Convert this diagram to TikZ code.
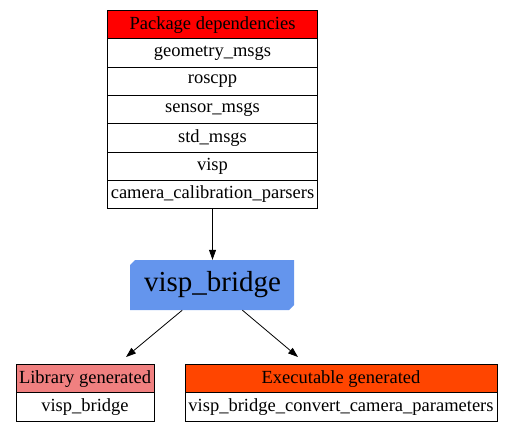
\documentclass[tikz,border=0pt]{standalone}
\usepackage{fontspec}
\setmainfont{Liberation Serif}
\usetikzlibrary{arrows.meta}
\definecolor{hdrred}{HTML}{FF0000}
\definecolor{libcol}{HTML}{F08080}
\definecolor{execol}{HTML}{FF4500}
\definecolor{vbcol}{HTML}{6495ED}
\begin{document}
\begin{tikzpicture}[x=1pt,y=-1pt,
  cell/.style={draw, line width=0.9pt, inner sep=0pt, anchor=north, minimum height=28.3pt,
    font=\fontsize{18.5}{20}\selectfont},
  conn/.style={line width=0.8pt, -{Triangle[length=10pt,width=7pt]}}]
\useasboundingbox (0,0) rectangle (511,432);
% package dependencies table
\node[cell, minimum width=210pt, fill=hdrred] (p0) at (212.5,10) {Package dependencies};
\foreach \t [count=\i from 1] in {geometry\_msgs,roscpp,sensor\_msgs,std\_msgs,visp,camera\_calibration\_parsers}{
  \node[cell, minimum width=210pt] (p\i) at (212.5,{10+\i*28.3}) {\t};
}
% visp_bridge node
\node[minimum width=164pt, minimum height=50pt, inner sep=0pt] (vb) at (212.5,285) {};
\fill[vbcol] (135,260) -- (294,260) -- (294,305) -- (289,310) -- (130,310) -- (130,265) -- cycle;
\node[font=\fontsize{29}{32}\selectfont] at (vb) {visp\_bridge};
% library table
\node[cell, minimum width=138pt, fill=libcol] (l0) at (85,364) {Library generated};
\node[cell, minimum width=138pt] (l1) at (85,392.3) {visp\_bridge};
% executable table
\node[cell, minimum width=312pt, fill=execol] (e0) at (341,364) {Executable generated};
\node[cell, minimum width=312pt] (e1) at (341,392.3) {visp\_bridge\_convert\_camera\_parameters};
% connector ends
\coordinate (lt) at (126,357);
\coordinate (et) at (298,357);
% connectors
\draw[conn] (p6.south) -- (p6.south |- vb.north);
\draw[conn] (vb) -- (lt);
\draw[conn] (vb) -- (et);
\end{tikzpicture}
\end{document}
